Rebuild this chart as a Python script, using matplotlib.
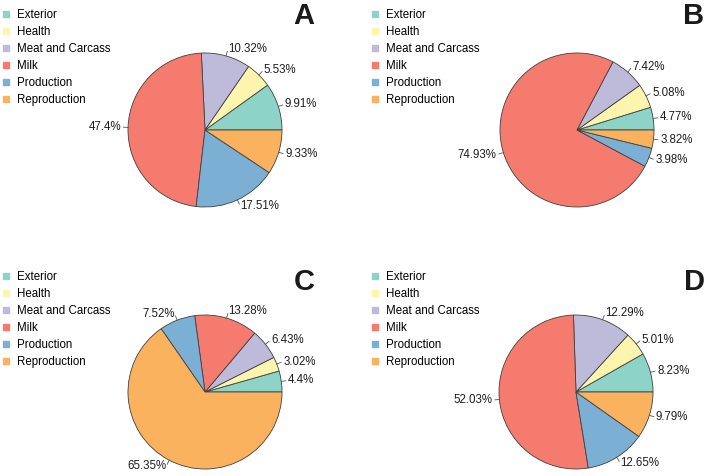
import numpy as np
import matplotlib.pyplot as plt
from matplotlib.lines import Line2D

plt.rcParams['font.family'] = ['Liberation Sans', 'DejaVu Sans']

categories = ['Exterior', 'Health', 'Meat and Carcass', 'Milk', 'Production', 'Reproduction']
colors = ['#8dd3c7', '#fdf5ae', '#bebada', '#f47b6e', '#7bafd4', '#fbb25e']

panel_a = [9.91, 5.53, 10.32, 47.4, 17.51, 9.33]
panel_b = [4.77, 5.08, 7.42, 74.93, 3.98, 3.82]
panel_c = [4.4, 3.02, 6.43, 13.28, 7.52, 65.35]
panel_d = [8.23, 5.01, 12.29, 52.03, 12.65, 9.79]

W, H = 709, 476
R = 77  # pie radius in pixels

fig = plt.figure(figsize=(W / 100, H / 100), dpi=100)


def draw_panel(values, letter, cx, cy, lx, ly, letter_x, letter_y):
    # axes placed so that the unit pie has radius R pixels
    half = 1.5 * R
    ax = fig.add_axes([(cx - half) / W, (H - cy - half) / H, 2 * half / W, 2 * half / H])
    labels = [f'{v:g}%' for v in values]
    wedges, texts = ax.pie(values, colors=colors, labels=labels, startangle=0,
                           counterclock=True, labeldistance=1.09,
                           wedgeprops=dict(edgecolor='#404040', linewidth=0.6),
                           textprops=dict(fontsize=8.3, color='#1e1e1e'))
    # short leader lines
    for w in wedges:
        ang = np.deg2rad((w.theta1 + w.theta2) / 2)
        ax.plot([np.cos(ang), 1.06 * np.cos(ang)], [np.sin(ang), 1.06 * np.sin(ang)],
                color='#555555', lw=0.6)
    ax.set_xlim(-1.5, 1.5)
    ax.set_ylim(-1.5, 1.5)
    ax.axis('off')

    handles = [Line2D([], [], marker='s', ls='', color=c, markersize=4.2) for c in colors]
    ax.legend(handles, categories, loc='upper left', bbox_to_anchor=(lx / W, 1 - ly / H),
              bbox_transform=fig.transFigure, frameon=False, fontsize=8.3,
              handlelength=0.6, handletextpad=0.6, labelspacing=0.43,
              borderpad=0, borderaxespad=0)
    fig.text(letter_x / W, 1 - letter_y / H, letter, fontsize=21, fontweight='bold',
             ha='center', va='center', color='#1a1a1a')


draw_panel(panel_a, 'A', 205, 130, 3, 9, 304, 16)
draw_panel(panel_b, 'B', 577, 130, 372, 9, 694, 16)
draw_panel(panel_c, 'C', 205, 392, 3, 271, 304, 282)
draw_panel(panel_d, 'D', 576, 392, 372, 271, 694, 282)

fig.savefig('out.png', dpi=100)
